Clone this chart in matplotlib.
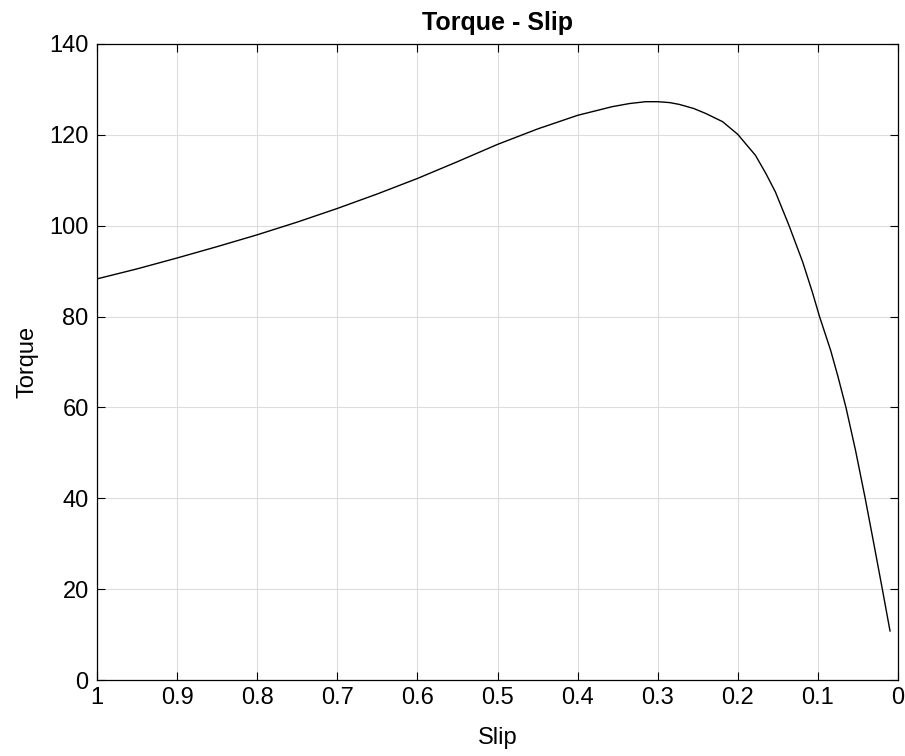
import numpy as np
import matplotlib.pyplot as plt

slip = [1.0, 0.95, 0.9, 0.85, 0.8, 0.75, 0.7, 0.65, 0.6, 0.55, 0.5, 0.45,
        0.4, 0.375, 0.357, 0.335, 0.315, 0.3, 0.285, 0.273, 0.255, 0.24,
        0.219, 0.2, 0.19, 0.178, 0.165, 0.153, 0.136, 0.119, 0.107, 0.098,
        0.084, 0.075, 0.065, 0.053, 0.041, 0.03, 0.0196, 0.01]
torque = [88.3, 90.5, 92.9, 95.4, 98.0, 100.8, 103.8, 107.0, 110.4, 114.1,
          117.9, 121.3, 124.3, 125.4, 126.2, 126.9, 127.3, 127.3, 127.1,
          126.7, 125.8, 124.7, 122.9, 120.1, 118.0, 115.5, 111.5, 107.4,
          100.0, 92.0, 85.4, 80.0, 72.5, 66.8, 60.0, 50.5, 40.0, 29.8, 20.0,
          10.8]
xticks = [1, 0.9, 0.8, 0.7, 0.6, 0.5, 0.4, 0.3, 0.2, 0.1, 0]
xlabels = ['1', '0.9', '0.8', '0.7', '0.6', '0.5', '0.4', '0.3', '0.2', '0.1', '0']
yticks = [0, 20, 40, 60, 80, 100, 120, 140]

plt.rcParams['font.family'] = ['Liberation Sans', 'DejaVu Sans']

fig = plt.figure(figsize=(9.05, 7.56), dpi=100)
ax = fig.add_axes([0.1072, 0.1005, 0.8851, 0.8413])

ax.plot(slip, torque, color='black', lw=1.0)

ax.set_xlim(1, 0)
ax.set_ylim(0, 140)
ax.set_xticks(xticks)
ax.set_xticklabels(xlabels)
ax.set_yticks(yticks)
ax.grid(True, color='#dcdcdc', lw=0.8)
ax.set_axisbelow(True)
ax.tick_params(direction='in', length=6, width=0.8, labelsize=17,
               top=True, right=True, colors='black')
ax.tick_params(axis='y', pad=6)
ax.tick_params(axis='x', pad=5)
for sp in ax.spines.values():
    sp.set_linewidth(0.9)

ax.set_title("Torque - Slip", fontsize=18, fontweight='bold', pad=10)
ax.set_xlabel("Slip", fontsize=17, labelpad=13)
ax.set_ylabel("Torque", fontsize=17, labelpad=8)

fig.savefig("out.png", dpi=100)
